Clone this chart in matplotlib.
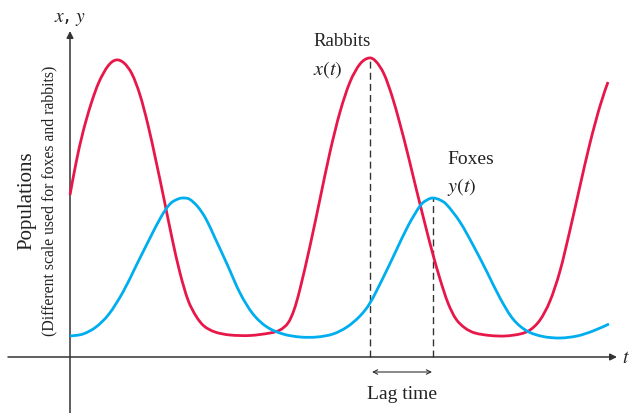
import numpy as np
import matplotlib
matplotlib.use("Agg")
import matplotlib.pyplot as plt
from matplotlib.path import Path
from matplotlib.patches import PathPatch

plt.rcParams["mathtext.fontset"] = "stix"

# values (time and population, origin at the axes crossing)
rabbit_t = [0, 6, 13, 21, 29, 38, 46, 54, 62, 70, 78, 86, 94, 102, 110, 118, 126, 134,
            145, 160, 180, 200, 210, 218, 224, 230, 240, 250, 260, 270, 280, 290, 299,
            306, 314, 322, 330, 338, 346, 354, 362, 370, 378, 386, 395, 405, 420, 435,
            450, 460, 470, 480, 490, 500, 510, 520, 530, 538]
rabbit_x = [162, 194, 225, 253, 275, 291, 297, 294, 283, 262, 232, 196, 158, 119, 84, 57,
            41, 31, 25, 22, 21.5, 24, 27, 34, 47, 68, 111, 158, 205, 245, 275, 293, 299,
            295.5, 283, 261, 233, 202, 169, 137, 106, 78, 54, 38, 29, 24, 21.5, 21, 23,
            27, 37, 56, 86, 127, 171, 214, 251, 275]

fox_t = [0, 13, 26, 39, 53, 66, 79, 91, 100, 108, 114, 120, 128, 136, 145, 157, 170, 183,
         197, 213, 230, 247, 263, 277, 290, 300, 312, 325, 338, 350, 357, 363, 370, 377,
         390, 403, 417, 430, 443, 457, 473, 490, 507, 523, 539]
fox_y = [21, 23, 30, 43, 65, 91, 117, 140, 153, 158, 159, 157.5, 150, 138, 119, 93, 64,
         43, 30, 23, 20, 20, 23, 30, 41, 54, 77, 104, 131, 151, 157, 159, 157, 152, 135,
         112, 85, 59, 38, 26, 20.5, 19, 21, 26, 33]

peak_rabbit_t = 300
peak_fox_t = 363

red = "#e8174a"
blue = "#00aeef"
axis_col = "#333333"


def smooth_path(xs, ys):
    # draw a smooth curve through the given points (Catmull-Rom as cubic Beziers)
    p = np.column_stack([xs, ys]).astype(float)
    ext = np.vstack([p[0], p, p[-1]])
    verts = [p[0]]
    codes = [Path.MOVETO]
    for i in range(1, len(ext) - 2):
        c1 = ext[i] + (ext[i + 1] - ext[i - 1]) / 6
        c2 = ext[i + 1] - (ext[i + 2] - ext[i]) / 6
        verts += [c1, c2, ext[i + 1]]
        codes += [Path.CURVE4] * 3
    return Path(verts, codes)


fig = plt.figure(figsize=(6.31, 4.14), dpi=100)
ax = fig.add_axes([0, 0, 1, 1])
ax.set_xlim(-70, 561)
ax.set_ylim(-56, 358)
ax.axis("off")

# axes with arrow heads
ax.annotate("", xy=(547, 0), xytext=(-62, 0),
            arrowprops=dict(arrowstyle="-|>", color=axis_col, lw=1.1,
                            mutation_scale=10, shrinkA=0, shrinkB=0))
ax.annotate("", xy=(0, 326), xytext=(0, -56),
            arrowprops=dict(arrowstyle="-|>", color=axis_col, lw=1.1,
                            mutation_scale=10, shrinkA=0, shrinkB=0))

# dashed markers at the two peaks
ax.plot([peak_rabbit_t, peak_rabbit_t], [0, max(rabbit_x)], ls=(0, (5, 3)),
        color=axis_col, lw=1.0)
ax.plot([peak_fox_t, peak_fox_t], [0, max(fox_y)], ls=(0, (5, 3)),
        color=axis_col, lw=1.0)

ax.add_patch(PathPatch(smooth_path(rabbit_t, rabbit_x), fill=False, ec=red, lw=2.0,
                       zorder=3))
ax.add_patch(PathPatch(smooth_path(fox_t, fox_y), fill=False, ec=blue, lw=2.0,
                       zorder=3))

# lag time arrow
ax.annotate("", xy=(peak_fox_t - 1, -15), xytext=(peak_rabbit_t + 2, -15),
            arrowprops=dict(arrowstyle="<->", color=axis_col, lw=0.8,
                            mutation_scale=8, shrinkA=0, shrinkB=0))

serif = "Liberation Serif"
txt = "#222222"
ax.text(332, -37, "Lag time", ha="center", va="center", fontsize=14, family=serif,
        color=txt)
ax.text(552, 0, "$t$", ha="left", va="center", fontsize=14, color=txt)
ax.text(0, 339, r"$x$, $y$", ha="center", va="center", fontsize=14, color=txt)
ax.text(243, 316, "Rabbits", ha="left", va="center", fontsize=13.5, family=serif,
        color=txt)
ax.text(243, 288, r"$x(t)$", ha="left", va="center", fontsize=14.5, color=txt)
ax.text(377, 198, "Foxes", ha="left", va="center", fontsize=14, family=serif,
        color=txt)
ax.text(377, 171, r"$y(t)$", ha="left", va="center", fontsize=14.5, color=txt)

ax.text(-43, 157, "Populations", rotation=90, ha="center", va="center",
        fontsize=15, family=serif, color=txt)
ax.text(-21, 157, "(Different scale used for foxes and rabbits)", rotation=90,
        ha="center", va="center", fontsize=11.3, family=serif, color=txt)

fig.savefig("out.png", dpi=100)
